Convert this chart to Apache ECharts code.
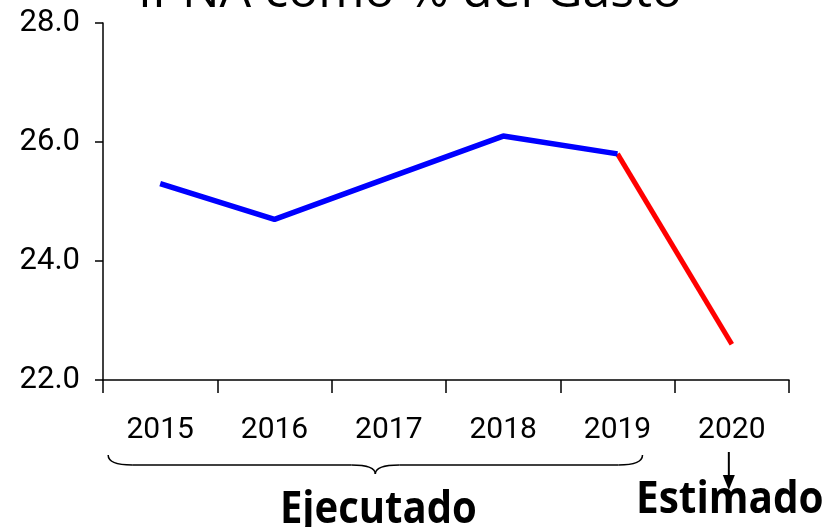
<!DOCTYPE html>
<html><head><meta charset="utf-8">
<script src="https://cdn.jsdelivr.net/npm/echarts@6/dist/echarts.min.js"></script>
<style>html,body{margin:0;padding:0;background:#fff}#c{width:825px;height:527px}</style>
</head><body><div id="c"></div>
<script>
const categories = ['2015','2016','2017','2018','2019','2020'];
const ejecutado = [25.3, 24.7, 25.4, 26.1, 25.8, null];
const estimado = [null, null, null, null, 25.8, 22.6];
const yTicks = {min: 22, max: 28, interval: 2};
const titleText = 'IPNA como % del Gasto';
const tickFont = 'Roboto, "Open Sans", sans-serif';
const font = '"Open Sans", "Noto Sans", sans-serif';

const chart = echarts.init(document.getElementById('c'));
chart.setOption({
  animation: false,
  backgroundColor: '#fff',
  grid: {left: 103, right: 36, top: 23, bottom: 147},
  xAxis: {
    type: 'category', data: categories, boundaryGap: true,
    axisLine: {lineStyle: {color: '#000', width: 1.5}},
    axisTick: {show: true, length: 13, lineStyle: {color: '#000', width: 1.5}},
    axisLabel: {color: '#000', fontSize: 30, fontFamily: tickFont, margin: 35}
  },
  yAxis: {
    type: 'value', min: yTicks.min, max: yTicks.max, interval: yTicks.interval,
    splitLine: {show: false},
    axisLine: {show: true, lineStyle: {color: '#000', width: 1.5}},
    axisTick: {show: true, length: 8, lineStyle: {color: '#000', width: 1.5}},
    axisLabel: {color: '#000', fontSize: 31, fontFamily: tickFont, margin: 23,
      formatter: v => v.toFixed(1)}
  },
  series: [
    {type: 'line', data: ejecutado, showSymbol: false, symbol: 'none',
     lineStyle: {color: '#0000ff', width: 5.5}, z: 3},
    {type: 'line', data: estimado, showSymbol: false, symbol: 'none',
     lineStyle: {color: '#ff0000', width: 5}, z: 2}
  ]
});

function annotate() {
  const xL = chart.convertToPixel({xAxisIndex: 0}, '2015') - 52;
  const xR = chart.convertToPixel({xAxisIndex: 0}, '2019') + 25;
  const xE = chart.convertToPixel({xAxisIndex: 0}, '2020');
  const xm = (xL + xR) / 2;
  const y0 = 455, y1 = 465, y2 = 474;
  const r = 24;
  const st = {stroke: '#000', lineWidth: 1.5, fill: null};
  const g = [
    {type: 'text', x: 410, y: -32,
     style: {text: titleText, font: `50px ${font}`, fill: '#000', align: 'center', verticalAlign: 'top'}},
    {type: 'bezierCurve', shape: {x1: xL, y1: y0, cpx1: xL, cpy1: y1, x2: xL + r, y2: y1}, style: st},
    {type: 'line', shape: {x1: xL + r, y1: y1, x2: xm - r, y2: y1}, style: st},
    {type: 'bezierCurve', shape: {x1: xm - r, y1: y1, cpx1: xm, cpy1: y1, x2: xm, y2: y2}, style: st},
    {type: 'bezierCurve', shape: {x1: xm, y1: y2, cpx1: xm, cpy1: y1, x2: xm + r, y2: y1}, style: st},
    {type: 'line', shape: {x1: xm + r, y1: y1, x2: xR - r, y2: y1}, style: st},
    {type: 'bezierCurve', shape: {x1: xR - r, y1: y1, cpx1: xR, cpy1: y1, x2: xR, y2: y0}, style: st},
    {type: 'line', shape: {x1: xE - 3, y1: 452, x2: xE - 3, y2: 477},
     style: {stroke: '#000', lineWidth: 2}},
    {type: 'polygon', shape: {points: [[xE - 9, 475], [xE + 3, 475], [xE - 3, 490]]},
     style: {fill: '#000'}},
    {type: 'text', x: xm + 3, y: 510, scaleX: 0.91,
     style: {text: 'Ejecutado', font: `bold 44px ${font}`, fill: '#000', align: 'center', verticalAlign: 'middle'}},
    {type: 'text', x: xE - 2, y: 500, scaleX: 0.92,
     style: {text: 'Estimado', font: `bold 44px ${font}`, fill: '#000', align: 'center', verticalAlign: 'middle'}}
  ];
  chart.setOption({graphic: g});
}
annotate();
</script></body></html>
